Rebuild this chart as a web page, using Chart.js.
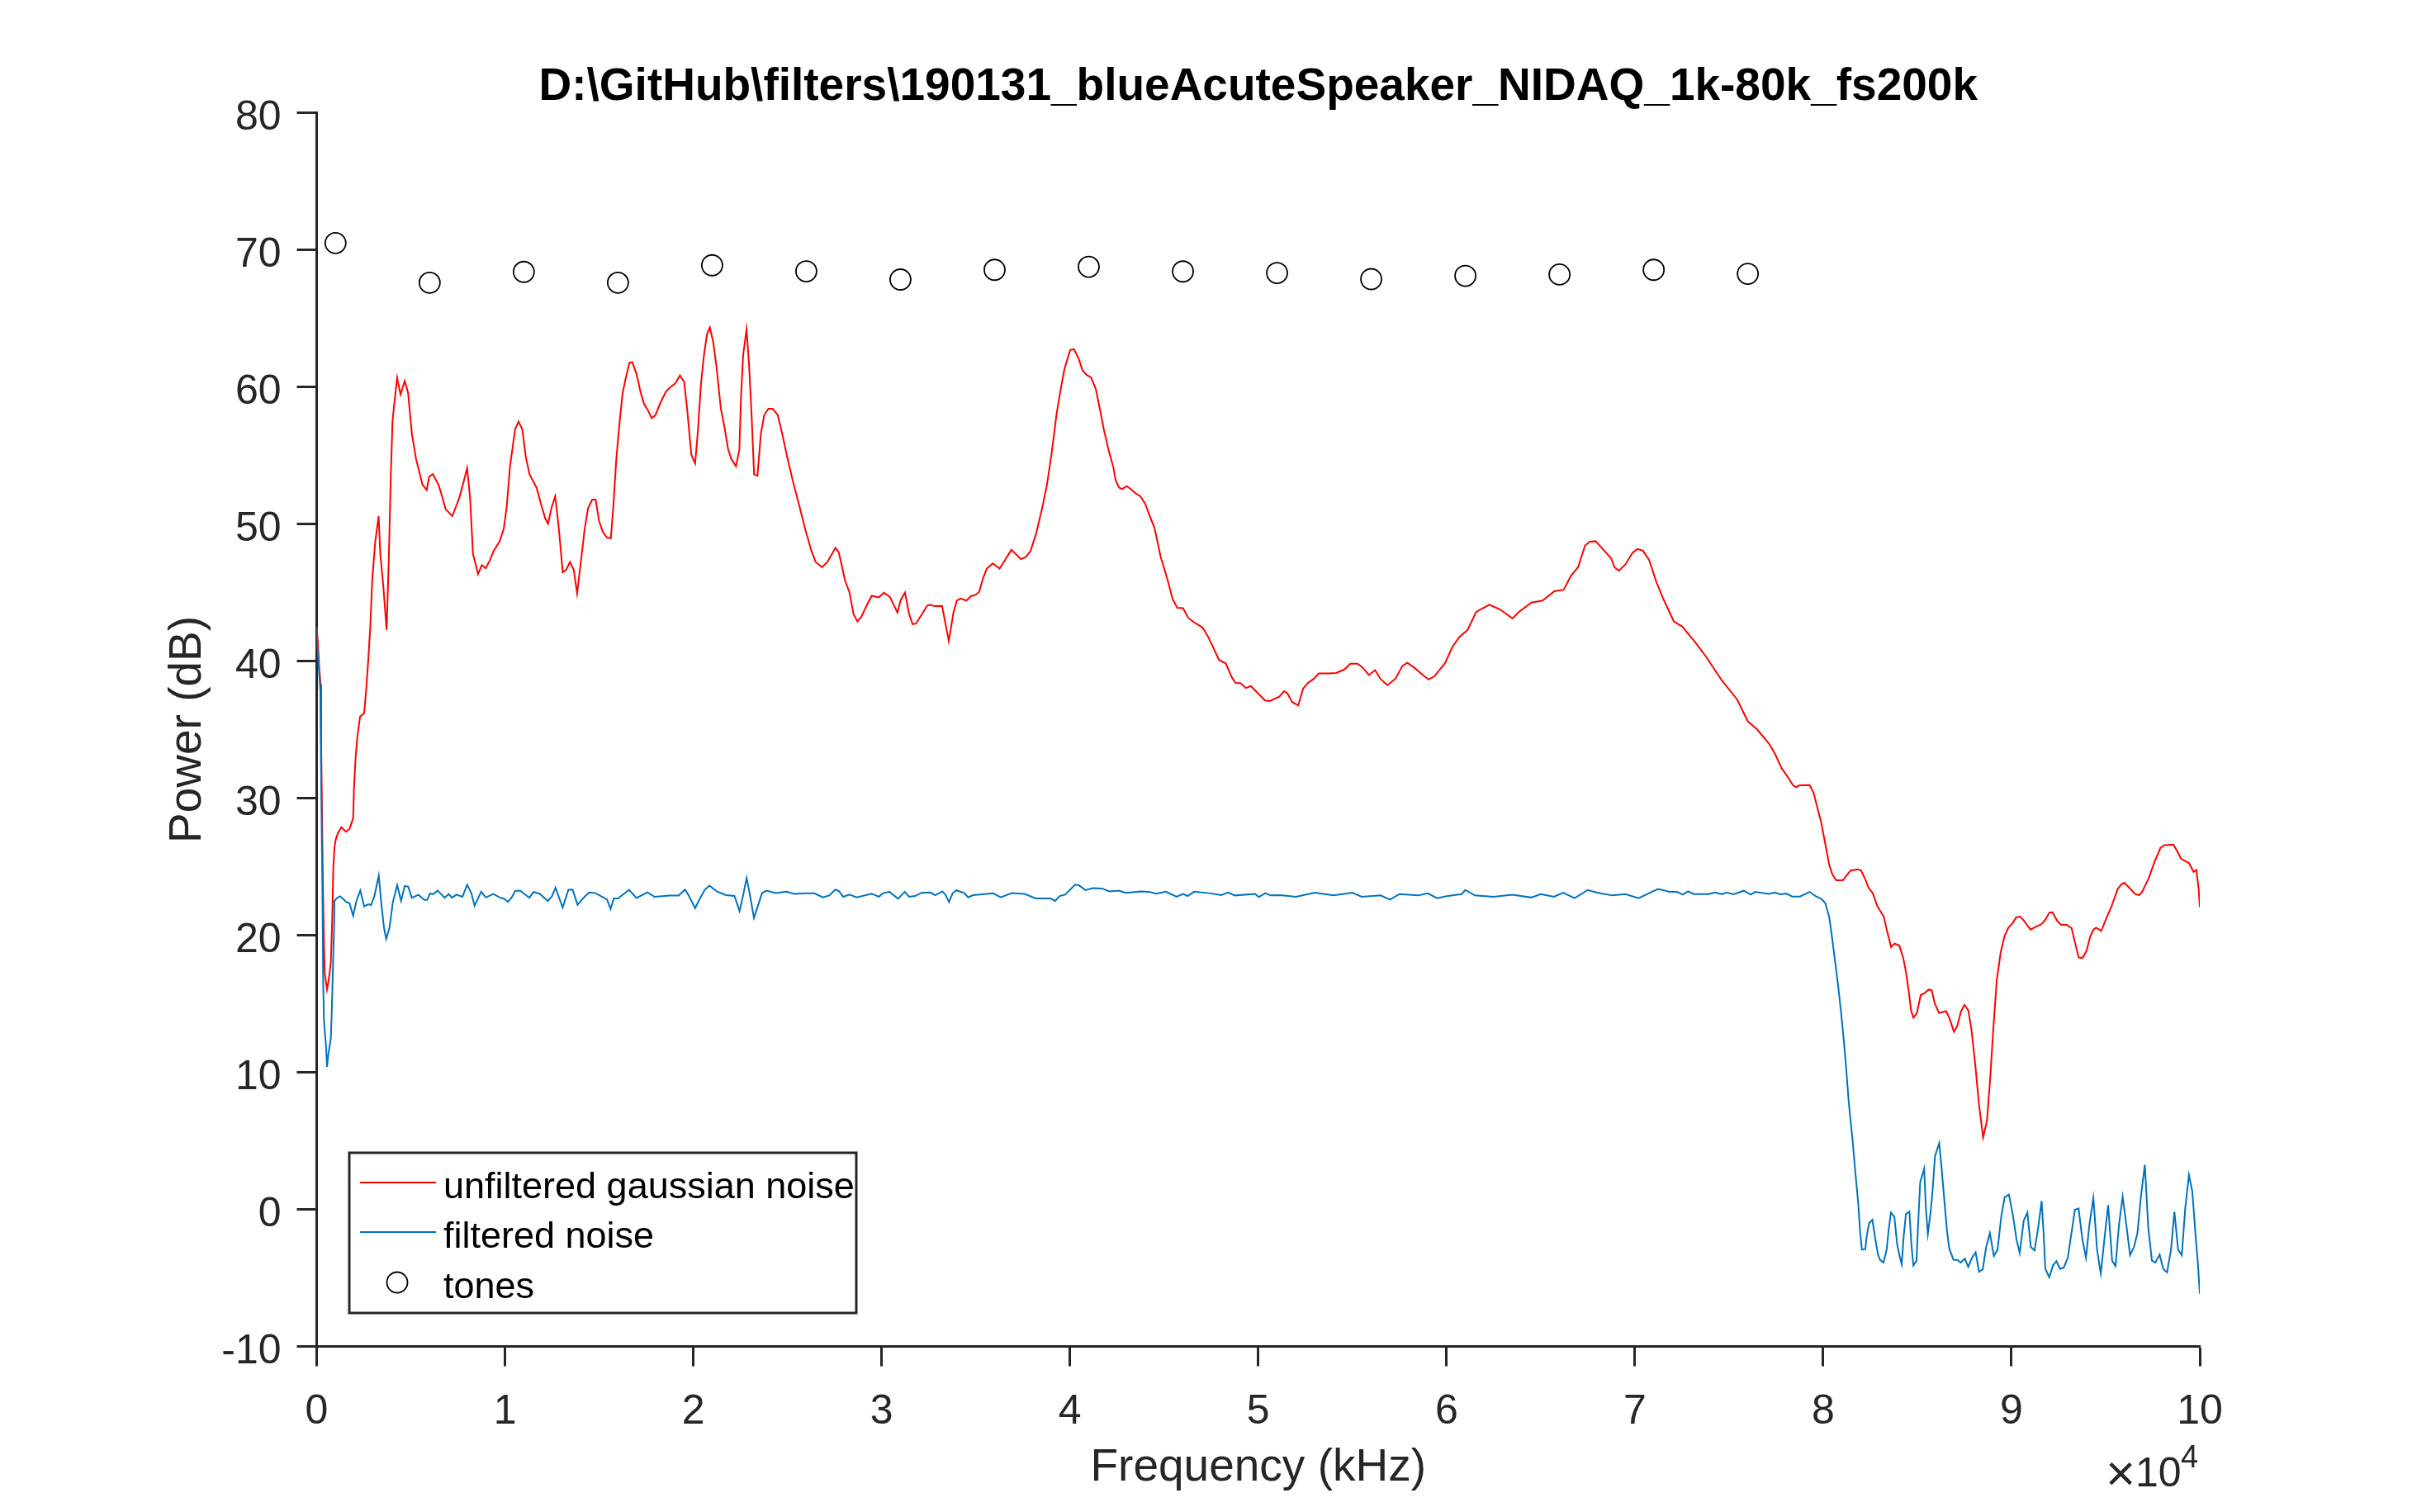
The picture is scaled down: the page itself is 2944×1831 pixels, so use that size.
<!DOCTYPE html>
<html>
<head>
<meta charset="utf-8">
<title>190131_blueAcuteSpeaker_NIDAQ_1k-80k_fs200k</title>
<script src="https://cdn.jsdelivr.net/npm/chart.js@4/dist/chart.umd.min.js"></script>
<style>
    html, body { margin: 0; padding: 0; background: #fff; }
    canvas { display: block; }
</style>
</head>
<body>
<canvas id="powerChart" width="2944" height="1831"></canvas>
<script>
// Labels
const chartTitle = 'D:\\GitHub\\filters\\190131_blueAcuteSpeaker_NIDAQ_1k-80k_fs200k';
const seriesLabels = ['unfiltered gaussian noise', 'filtered noise', 'tones'];

// Unfiltered noise (Hz, dB)
const redFreq = [0,66,139,212,241,285,329,387,431,548,651,753,826,885,943,1016,1133,1308,1557,1747,1937,1981,2069,2156,2303,2522,2624,2741,2844,2953,3110,3290,3379,3536,3715,3827,3938,4027,4161,4273,4452,4676,4855,5057,5280,5616,5840,5974,6175,6466,6623,6847,7205,7585,7809,7988,8145,8302,8369,8570,8771,8973,9196,9398,9711,9935,10092,10271,10540,10719,10920,11099,11300,11681,11905,12128,12285,12464,12666,12845,13069,13248,13449,13651,13830,14076,14233,14412,14636,14815,14994,15195,15419,15620,15754,15911,16090,16247,16426,16605,16761,16985,17209,17388,17590,17791,17992,18261,18552,18776,19045,19291,19515,19672,19895,20097,20231,20410,20567,20724,20880,21059,21238,21462,21663,21842,22021,22267,22446,22536,22648,22827,22961,23095,23229,23408,23587,23766,23990,24214,24482,24706,24975,25333,25601,25937,26273,26497,26833,27124,27549,27728,28064,28287,28511,28713,28914,29227,29473,29853,30122,30435,30838,31017,31241,31465,31644,31823,32092,32427,32584,32808,33210,33569,33819,33996,34197,34499,34751,35003,35179,35381,35582,35909,36262,36514,36891,37143,37395,37647,37899,38201,38528,38780,39032,39284,39485,39712,40014,40215,40467,40669,40870,41122,41374,41625,41802,42053,42305,42431,42607,42784,43010,43237,43489,43740,43992,44194,44496,44823,45150,45453,45704,46007,46284,46586,47039,47341,47593,47920,48273,48600,48801,49053,49355,49607,49985,50363,50615,51118,51370,51546,51798,52125,52377,52629,52956,53208,53762,54140,54568,54895,55273,55525,55878,56205,56482,56860,57287,57665,57917,58295,58798,59050,59352,59931,60309,60687,61115,61568,61820,62272,62827,63205,63507,63834,64513,65098,65722,66226,66604,66982,67359,67611,67913,68241,68744,68921,69148,69500,69878,70130,70432,70759,71137,71514,71841,72068,72521,72899,73100,73790,74610,75430,76000,76500,77109,77420,77792,78144,78393,78558,78724,79283,79490,79697,79904,80111,80318,80483,80690,81042,81249,81456,81829,82015,82243,82408,82636,82864,83216,83423,83609,83795,84044,84251,84396,84561,84665,84789,84975,85182,85389,85596,85762,85927,86155,86528,86713,86941,87107,87314,87500,87707,87873,88080,88287,88494,88701,88867,89032,89219,89426,89633,89840,90047,90254,90461,90668,90875,91020,91289,91599,91806,92013,92179,92427,92634,92945,93193,93359,93566,93773,93980,94188,94353,94498,94768,95015,95325,95636,95843,95988,96257,96567,96774,96940,97291,97602,97913,98120,98596,98782,99010,99424,99672,99817,99941,100000];
const redPower = [42.5,41.3,39.44,38.29,33.68,28.84,24,19.39,17.2,16.04,16.85,18,21.2,24.9,26.4,27,27.46,27.87,27.55,27.76,28.54,30.7,33,34.4,35.94,36.2,37.83,40.1,42.44,45.96,48.7,50.57,47.8,45.5,42.27,47.34,53.56,57.5,59.3,60.67,59.44,60.43,59.56,56.56,54.72,52.87,52.48,53.45,53.63,52.87,52.18,51.08,50.57,51.95,53.1,54.07,51.95,47.8,47.46,46.35,47,46.76,47.34,48.03,48.72,49.65,51.26,54.26,56.91,57.46,56.91,54.95,53.63,52.64,51.49,50.45,50.02,51.15,52.02,49.88,46.47,46.65,47.23,46.65,44.94,47.8,49.65,51.15,51.77,51.77,50.22,49.42,49,48.96,51.26,54.72,57.48,59.56,60.71,61.75,61.8,60.94,59.56,58.75,58.29,57.72,57.95,58.87,59.67,59.97,60.25,60.83,60.37,58.41,55.06,54.42,56.56,60.25,62.33,63.82,64.33,63.25,61.4,58.41,57.02,55.5,54.72,54.21,55.41,59.33,62.33,64.2,61.63,57.95,53.61,53.52,56.56,57.95,58.41,58.41,57.95,56.68,54.95,52.87,51.49,49.65,48.03,47.23,46.84,47.23,48.26,47.92,45.84,45.04,43.42,42.89,43.19,44.11,44.76,44.64,44.99,44.69,43.54,44.46,44.99,43.42,42.69,42.73,43.31,44.05,44.11,44,44.02,41.46,43.57,44.41,44.56,44.41,44.73,44.84,45.05,46,46.74,47.12,46.74,47.27,48.11,47.79,47.43,47.58,48,49.27,51.17,52.86,55.19,57.94,59.63,61.32,62.69,62.75,62.05,61.21,60.89,60.68,59.84,58.15,56.88,55.4,54.13,53.18,52.65,52.55,52.76,52.55,52.23,52.02,51.49,50.75,49.69,47.58,46.1,44.52,43.88,43.86,43.15,42.83,42.45,41.77,41.03,40.08,39.83,38.81,38.39,38.39,38.03,38.18,37.65,37.12,37.08,37.4,37.8,37.65,37.02,36.76,37.97,38.39,38.71,39.09,39.09,39.13,39.38,39.81,39.81,39.55,38.98,39.34,38.71,38.24,38.71,39.66,39.87,39.51,38.92,38.65,38.88,39.87,41.03,41.77,42.26,43.57,43.78,44.1,43.78,43.4,43.1,43.57,44.26,44.41,45.09,45.2,46.21,46.84,48.43,48.7,48.74,48.26,47.48,46.84,46.59,47.05,47.9,48.17,48.05,47.37,45.79,44.52,43.57,42.89,42.51,41.88,41.56,40.3,38.6,37.2,35.6,35,34,33.3,32.19,31.49,30.95,30.79,30.93,30.95,30.39,29.28,28.18,26.67,25.16,24.46,24,24,24.36,24.72,24.8,24.72,24.06,23.46,23.06,22.15,21.35,20.14,19.14,19.38,19.24,18.34,17.33,15.73,14.52,13.98,14.32,15.63,15.77,16.03,15.99,15.02,14.32,14.46,13.92,12.96,13.32,14.42,14.92,14.52,13.12,10.51,7.49,5.25,6.49,9.5,13.12,16.73,18.74,19.94,20.55,20.85,21.31,21.35,21.05,20.65,20.41,20.61,20.81,21.15,21.65,21.67,21.05,20.75,20.75,20.51,19.54,18.38,18.34,18.84,19.94,20.41,20.55,20.31,21.15,22.15,23.36,23.72,23.82,23.46,23,22.92,23.16,24.16,25.37,26.37,26.57,26.61,26.17,25.57,25.27,24.62,24.76,23.36,22.05];

// Filtered noise (Hz, dB)
const blueFreq = [0,22,197,227,270,314,344,387,446,504,548,621,753,797,841,885,928,943,1089,1235,1382,1572,1747,1937,2112,2317,2522,2741,2888,3063,3297,3428,3575,3692,3867,4042,4276,4481,4671,4861,5051,5402,5724,5870,6016,6206,6425,6791,7011,7187,7420,7741,7990,8209,8384,8735,8984,9379,9788,9934,10154,10344,10549,10812,11295,11514,11835,12274,12493,12683,13063,13370,13589,13852,14174,14466,14788,15417,15607,15783,16002,16587,16982,17567,17947,18737,19219,19555,19730,20096,20315,20608,20853,21244,21734,22184,22458,22654,22830,23006,23222,23437,23653,23888,24377,24965,25356,25943,26433,26883,27216,27549,27745,27960,28293,28685,29468,29859,30055,30408,30878,31230,31465,31778,32111,32601,32836,33227,33384,33580,33775,33971,34402,34598,34853,35930,36322,36909,37594,38181,38964,39218,39454,39747,40276,40472,40825,41216,41706,42097,42587,42978,43761,44192,44583,45093,45661,46013,46248,46600,47481,48030,48402,48754,49831,50027,50380,50655,51162,52000,53000,54000,55000,55500,56500,57000,57500,58500,59000,59500,60000,60800,61000,61500,62500,63500,64500,65000,65700,66200,66800,67500,68000,68800,69500,70200,70899,71210,71416,71831,72245,72555,72824,73135,73901,74252,74625,74873,75246,75784,76157,76385,77109,77440,77730,78041,78351,78765,79283,79593,79904,80111,80318,80463,80628,80794,80939,81084,81209,81354,81423,81559,81710,81861,81966,82057,82238,82314,82434,82615,82767,82918,83023,83204,83371,83476,83597,83778,83929,84050,84171,84277,84397,84579,84684,84790,84956,85062,85153,85364,85455,85560,85711,85817,85938,86164,86270,86421,86572,86693,86919,87146,87297,87523,87704,87900,88097,88278,88475,88656,88852,89063,89260,89456,89637,89864,90090,90271,90437,90649,90845,91026,91223,91419,91600,91706,91797,92008,92205,92386,92582,92778,92990,93186,93367,93564,93760,93956,94137,94349,94545,94742,94953,95134,95345,95527,95708,95904,96100,96297,96508,96689,96885,97082,97263,97459,97640,97867,98063,98260,98471,98652,98849,99045,99226,99423,99604,99800,99905,100000];
const bluePower = [42.44,41.3,37.8,32.9,27.46,22.15,16.62,13.85,12.7,11.78,10.4,11.32,12.47,14.2,16.39,18.7,20.77,22.5,22.73,22.84,22.68,22.43,22.32,21.42,22.5,23.26,22.11,22.25,22.2,22.84,24.34,22.39,20.54,19.73,20.54,22.39,23.65,22.5,23.58,23.54,22.73,22.94,22.57,22.57,23.03,23,23.26,22.73,23,22.73,22.96,22.8,23.68,23.08,22.15,23.17,22.75,23,22.71,22.68,22.43,22.73,23.24,23.24,22.73,23.15,23.03,22.5,22.84,23.47,22.02,23.31,23.33,22.22,22.73,23.12,23.08,22.61,21.92,22.68,22.68,23.31,22.71,23.12,22.8,22.89,22.89,23.33,22.96,21.97,22.57,23.31,23.61,23.2,22.92,22.86,21.76,22.96,24.17,22.96,21.26,22.16,23.07,23.25,23.07,23.17,23.01,23.05,23.05,22.76,22.9,23.33,23.2,22.8,22.96,22.76,23.03,22.8,23.05,23.17,22.66,23.17,22.8,22.86,23.09,23.11,22.92,23.2,22.96,22.42,23.07,23.27,23.07,22.76,22.92,23.05,22.76,23.07,23.01,22.68,22.68,22.5,22.86,22.96,23.69,23.65,23.29,23.43,23.41,23.2,23.25,23.09,23.19,23.17,23.03,23.17,22.8,23.01,22.86,23.17,23.05,22.92,23.11,22.9,23.01,22.78,23.07,22.9,22.92,22.8,23.1,22.9,23.1,22.8,22.9,22.6,23,22.9,23.05,22.7,22.85,23,23.3,22.9,22.8,22.95,22.75,23,22.8,23.1,22.7,23.3,23.1,22.9,23,22.7,23.16,23.36,23.32,23.16,23.16,22.96,23.2,23,23,23.12,22.98,23.12,22.98,23.24,22.96,23.16,23.02,23.12,22.98,23.04,22.82,22.82,23.16,22.86,22.65,22.35,21.35,19.94,18.14,16.33,14.52,12.51,10.51,7.9,6.9,5.09,2.68,0.47,-1.73,-2.94,-2.9,-1.94,-1.03,-0.77,-2.14,-3.34,-3.68,-3.88,-2.94,-1.53,-0.23,-0.53,-2.54,-3.34,-4,-1.94,-0.33,-0.17,-2.54,-4.1,-3.74,-0.53,1.98,2.98,0.07,-1.79,-0.13,1.48,3.89,4.83,3.29,0.88,-1.53,-2.84,-3.68,-3.7,-3.88,-3.6,-4.2,-3.54,-3.14,-4.55,-4.38,-2.74,-1.73,-3.4,-2.94,-0.53,0.88,1.08,-0.53,-2.24,-3.18,-0.83,-0.23,-2.74,-3,-1.33,0.61,-1.73,-4.34,-4.95,-4.1,-3.78,-4.35,-4.24,-3.54,-1.73,-0.03,0.07,-2.14,-3.54,-1.13,0.84,-2.94,-4.69,-1.94,0.31,-3.74,-4.14,-1.13,0.92,-1.13,-3.34,-2.74,-1.73,1.08,3.25,-1.33,-3.74,-3.88,-3.3,-4.35,-4.6,-2.94,-0.17,-2.94,-3.34,0.07,2.52,1.28,-2.34,-4.04,-6.15];

// Tones
const toneFreq = [1000,6000,11000,16000,21000,26000,31000,36000,41000,46000,51000,56000,61000,66000,71000,76000];
const tonePower = [70.49,67.6,68.39,67.6,68.87,68.43,67.83,68.54,68.76,68.42,68.31,67.86,68.1,68.2,68.54,68.25];

const toPoints = (xs, ys) => xs.map((x, i) => ({ x, y: ys[i] }));

const textColor = '#262626';
const fontFamily = "'Liberation Sans', Arial, sans-serif";

// Draws the boxed legend inside the axes and the x10^4 exponent under the last tick
const annotations = {
    id: 'annotations',
    afterDraw(chart) {
        const ctx = chart.ctx;
        ctx.save();

        ctx.fillStyle = '#fff';
        ctx.strokeStyle = textColor;
        ctx.lineWidth = 3;
        ctx.fillRect(423, 1396, 614, 194);
        ctx.strokeRect(423, 1396, 614, 194);

        ctx.lineWidth = 2;
        ctx.strokeStyle = '#ff0000';
        ctx.beginPath(); ctx.moveTo(436, 1432); ctx.lineTo(528, 1432); ctx.stroke();
        ctx.strokeStyle = '#0072BD';
        ctx.beginPath(); ctx.moveTo(436, 1492); ctx.lineTo(528, 1492); ctx.stroke();
        ctx.lineWidth = 1.8;
        ctx.strokeStyle = '#000';
        ctx.beginPath(); ctx.arc(481, 1553, 12.5, 0, Math.PI * 2); ctx.stroke();

        ctx.fillStyle = '#000';
        ctx.font = `45px ${fontFamily}`;
        ctx.textBaseline = 'alphabetic';
        ctx.textAlign = 'left';
        ctx.fillText(seriesLabels[0], 537, 1451);
        ctx.fillText(seriesLabels[1], 537, 1511);
        ctx.fillText(seriesLabels[2], 537, 1572);

        ctx.fillStyle = textColor;
        ctx.font = `62px ${fontFamily}`;
        ctx.fillText('\u00D7', 2550, 1805);
        ctx.font = `50px ${fontFamily}`;
        ctx.fillText('10', 2586, 1800);
        ctx.font = `38px ${fontFamily}`;
        ctx.fillText('4', 2641, 1777);

        ctx.restore();
    }
};

new Chart(document.getElementById('powerChart').getContext('2d'), {
    type: 'line',
    data: {
        datasets: [
            {
                label: seriesLabels[0],
                data: toPoints(redFreq, redPower),
                borderColor: '#ff0000',
                borderWidth: 2,
                pointRadius: 0,
                tension: 0,
                order: 3
            },
            {
                label: seriesLabels[1],
                data: toPoints(blueFreq, bluePower),
                borderColor: '#0072BD',
                borderWidth: 2,
                pointRadius: 0,
                tension: 0,
                order: 2
            },
            {
                label: seriesLabels[2],
                data: toPoints(toneFreq, tonePower),
                showLine: false,
                pointStyle: 'circle',
                pointRadius: 12.5,
                pointBorderWidth: 1.8,
                pointBorderColor: '#000',
                pointBackgroundColor: 'rgba(0, 0, 0, 0)',
                order: 1
            }
        ]
    },
    options: {
        responsive: false,
        animation: false,
        devicePixelRatio: 1,
        layout: { padding: { left: 0, top: 0, right: 280, bottom: 0 } },
        plugins: {
            legend: { display: false },
            tooltip: { enabled: false },
            title: {
                display: true,
                text: chartTitle,
                fullSize: false,
                color: '#000',
                font: { family: fontFamily, size: 55, weight: 'bold', lineHeight: 1.1 },
                padding: { top: 75.75, bottom: 0.25 }
            }
        },
        scales: {
            x: {
                type: 'linear',
                min: 0,
                max: 100000,
                afterFit: scale => { scale.height = 200.5; },
                border: { color: textColor, width: 3 },
                grid: { drawOnChartArea: false, color: textColor, tickColor: textColor, tickWidth: 3, tickLength: 24 },
                ticks: {
                    stepSize: 10000,
                    color: textColor,
                    padding: 26,
                    maxRotation: 0,
                    font: { family: fontFamily, size: 50 },
                    callback: value => String(value / 10000)
                },
                title: {
                    display: true,
                    text: 'Frequency (kHz)',
                    color: textColor,
                    font: { family: fontFamily, size: 55 },
                    padding: { top: 0, bottom: 20 }
                }
            },
            y: {
                type: 'linear',
                min: -10,
                max: 80,
                afterFit: scale => { scale.width = 383.5; },
                border: { color: textColor, width: 3 },
                grid: { drawOnChartArea: false, color: textColor, tickColor: textColor, tickWidth: 3, tickLength: 24 },
                ticks: {
                    stepSize: 10,
                    color: textColor,
                    padding: 19,
                    // the empty first line nudges each label down by half a line height
                    font: { family: fontFamily, size: 50, lineHeight: '14px' },
                    callback: value => ['', String(value)]
                },
                title: {
                    display: true,
                    text: 'Power (dB)',
                    color: textColor,
                    font: { family: fontFamily, size: 55 },
                    padding: { top: 195, bottom: 0 }
                }
            }
        }
    },
    plugins: [annotations]
});
</script>
</body>
</html>
